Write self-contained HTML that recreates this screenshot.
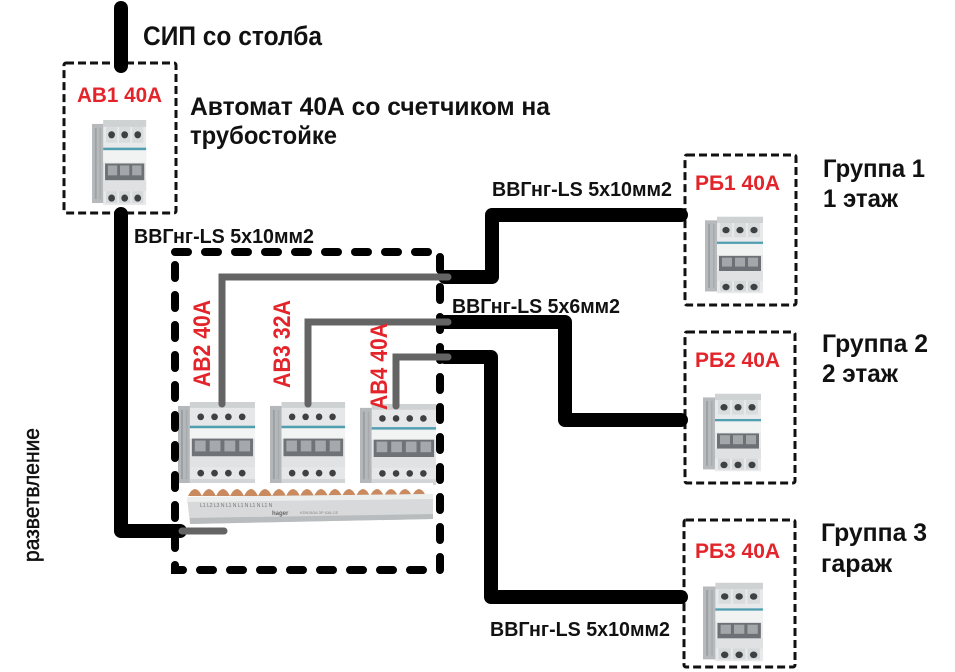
<!DOCTYPE html>
<html><head><meta charset="utf-8">
<style>
html,body{margin:0;padding:0;background:#fff;}
svg{display:block;}
.t{font-family:"Liberation Sans Narrow","Liberation Sans","Noto Sans CJK SC",sans-serif;font-weight:bold;fill:#111;}
.r{fill:#e3242b;}
</style></head>
<body>
<svg width="955" height="672" viewBox="0 0 955 672" xmlns="http://www.w3.org/2000/svg">
<defs>
  <symbol id="b3" viewBox="0 0 60 90" preserveAspectRatio="none">
    <rect x="0" y="6" width="13" height="80" fill="#b7babc"/>
    <rect x="3" y="10" width="2" height="72" fill="#9ea2a4"/>
    <rect x="8" y="10" width="1.5" height="72" fill="#a7abad"/>
    <rect x="12" y="2" width="46" height="86" fill="#e7e9ea"/>
    <rect x="12" y="2" width="46" height="7" fill="#cfd2d3"/>
    <rect x="15" y="9" width="12" height="16" fill="#d9dcdd"/>
    <rect x="29" y="9" width="12" height="16" fill="#d9dcdd"/>
    <rect x="43" y="9" width="12" height="16" fill="#d9dcdd"/>
    <circle cx="21" cy="17" r="3.6" fill="#3e4143"/>
    <circle cx="35" cy="17" r="3.6" fill="#3e4143"/>
    <circle cx="49" cy="17" r="3.6" fill="#3e4143"/>
    <rect x="12" y="30" width="46" height="2.5" fill="#4f9fb1"/>
    <rect x="12" y="33" width="46" height="12" fill="#f1f2f2"/>
    <rect x="14" y="46" width="42" height="17" fill="#6d7175"/>
    <rect x="17" y="48" width="10" height="10" fill="#a3a7aa"/>
    <rect x="30" y="48" width="10" height="10" fill="#a3a7aa"/>
    <rect x="43" y="48" width="10" height="10" fill="#a3a7aa"/>
    <rect x="12" y="63" width="46" height="11" fill="#dfe1e2"/>
    <rect x="15" y="74" width="12" height="12" fill="#d6d9da"/>
    <rect x="29" y="74" width="12" height="12" fill="#d6d9da"/>
    <rect x="43" y="74" width="12" height="12" fill="#d6d9da"/>
    <circle cx="21" cy="81" r="3.6" fill="#3e4143"/>
    <circle cx="35" cy="81" r="3.6" fill="#3e4143"/>
    <circle cx="49" cy="81" r="3.6" fill="#3e4143"/>
  </symbol>
  <symbol id="b4" viewBox="0 0 80 84" preserveAspectRatio="none">
    <rect x="0" y="4" width="13" height="78" fill="#b5b8ba"/>
    <rect x="3" y="8" width="2" height="70" fill="#9ca0a2"/>
    <rect x="8" y="8" width="1.5" height="70" fill="#a6aaac"/>
    <rect x="12" y="0" width="66" height="84" fill="#e5e7e8"/>
    <rect x="12" y="0" width="66" height="6" fill="#cfd2d3"/>
    <circle cx="23" cy="15" r="3.4" fill="#3e4143"/>
    <circle cx="37" cy="15" r="3.4" fill="#3e4143"/>
    <circle cx="51" cy="15" r="3.4" fill="#3e4143"/>
    <circle cx="65" cy="15" r="3.4" fill="#3e4143"/>
    <rect x="12" y="24" width="66" height="2.5" fill="#4f9fb1"/>
    <rect x="12" y="27" width="66" height="10" fill="#f2f3f3"/>
    <rect x="14" y="37" width="62" height="18" fill="#6f7377"/>
    <rect x="17" y="39" width="11" height="11" fill="#a5a9ac"/>
    <rect x="32" y="39" width="11" height="11" fill="#a5a9ac"/>
    <rect x="47" y="39" width="11" height="11" fill="#a5a9ac"/>
    <rect x="62" y="39" width="11" height="11" fill="#a5a9ac"/>
    <rect x="12" y="55" width="66" height="11" fill="#e0e2e3"/>
    <circle cx="23" cy="72" r="3.4" fill="#3e4143"/>
    <circle cx="37" cy="72" r="3.4" fill="#3e4143"/>
    <circle cx="51" cy="72" r="3.4" fill="#3e4143"/>
    <circle cx="65" cy="72" r="3.4" fill="#3e4143"/>
    <rect x="12" y="78" width="66" height="6" fill="#d2d5d6"/>
  </symbol>
</defs>

<rect width="955" height="672" fill="#fff"/>

<!-- small dashed boxes -->
<g fill="none" stroke="#111" stroke-width="3" stroke-dasharray="8 4">
  <rect x="64" y="63" width="112" height="150" rx="2"/>
  <rect x="685" y="155" width="111" height="150" rx="2"/>
  <rect x="685" y="332" width="110" height="151" rx="2"/>
  <rect x="684" y="520" width="111" height="147" rx="2"/>
</g>

<!-- breakers -->
<use href="#b3" x="92" y="118" width="56" height="89"/>
<use href="#b3" x="705" y="215" width="60" height="80"/>
<use href="#b3" x="703" y="392" width="60" height="81"/>
<use href="#b3" x="703" y="581" width="62" height="82"/>
<use href="#b4" x="178" y="402" width="79" height="83"/>
<use href="#b4" x="270" y="402" width="77" height="83"/>
<use href="#b4" x="360" y="404" width="78" height="81"/>

<!-- busbar -->
<g>
  <rect x="188" y="483" width="245" height="13" fill="#fff"/>
  <path d="M188,496 q7,-14 14,0 q7,-14 14,0 q7,-14 14,0 q7,-14 14,0 q7,-14 14,0 q7,-14 14,0 q7,-14 14,0 q7,-14 14,0 q7,-14 14,0 q7,-14 14,0 q7,-14 14,0 q7,-14 14,0 q7,-14 14,0 q7,-14 14,0 q7,-14 14,0 q7,-14 14,0 q7,-14 14,0 Z" fill="#c98a5f"/>
  <polygon points="187,497 433,494 433,519 190,524" fill="#d7d9da"/>
  <polygon points="187,497 433,494 433,499 187,502" fill="#eceeee"/>
  <polygon points="190,518 433,514 433,519 190,524" fill="#b9bcbe"/>
  <text x="200" y="507" font-family="Liberation Sans" font-size="5" fill="#777">L1    L2    L3    N    L1    N    L1    N    L1    N    L1    N</text>
  <text x="272" y="515" font-family="Liberation Sans" font-size="6" font-weight="bold" fill="#666">hager</text>
  <text x="300" y="514" font-family="Liberation Sans" font-size="4" fill="#888">KDN363A  3P  63A  CE</text>
</g>

<!-- big dashed box -->
<rect x="175" y="252" width="265" height="318" fill="none" stroke="#000" stroke-width="8" stroke-linecap="round" stroke-dasharray="13 17"/>

<!-- black cables -->
<g fill="none" stroke="#000" stroke-width="14" stroke-linecap="round" stroke-linejoin="round">
  <path d="M121,8 V66"/>
  <path d="M121,214 V531 H180"/>
  <path d="M445,277 H492 V215 H681"/>
  <path d="M445,322 H565 V420 H681"/>
  <path d="M445,357 H491 V597 H681"/>
</g>

<!-- grey wires -->
<g fill="none" stroke="#646464" stroke-width="7" stroke-linecap="round" stroke-linejoin="miter">
  <path d="M222,404 V277 H448"/>
  <path d="M308,404 V322 H448"/>
  <path d="M396,406 V357 H448"/>
  <path d="M182,531 H224"/>
</g>

<!-- texts -->
<text class="t" x="143" y="45" font-size="27" textLength="179" lengthAdjust="spacingAndGlyphs">СИП со столба</text>
<text class="t" x="190" y="115" font-size="25" textLength="360" lengthAdjust="spacingAndGlyphs">Автомат 40А со счетчиком на</text>
<text class="t" x="190" y="144" font-size="25" textLength="147" lengthAdjust="spacingAndGlyphs">трубостойке</text>
<text class="t r" x="77" y="102" font-size="21" textLength="85" lengthAdjust="spacingAndGlyphs">АВ1 40А</text>
<text class="t" x="134" y="243" font-size="20" textLength="180" lengthAdjust="spacingAndGlyphs">ВВГнг-LS 5x10мм2</text>
<text class="t" x="492" y="196" font-size="20" textLength="180" lengthAdjust="spacingAndGlyphs">ВВГнг-LS 5x10мм2</text>
<text class="t" x="452" y="313" font-size="20" textLength="168" lengthAdjust="spacingAndGlyphs">ВВГнг-LS 5x6мм2</text>
<text class="t" x="490" y="636" font-size="20" textLength="180" lengthAdjust="spacingAndGlyphs">ВВГнг-LS 5x10мм2</text>

<text class="t r" x="695" y="190" font-size="21" textLength="85" lengthAdjust="spacingAndGlyphs">РБ1 40А</text>
<text class="t r" x="695" y="367" font-size="21" textLength="85" lengthAdjust="spacingAndGlyphs">РБ2 40А</text>
<text class="t r" x="695" y="558" font-size="21" textLength="85" lengthAdjust="spacingAndGlyphs">РБ3 40А</text>

<text class="t" x="823" y="177" font-size="25" textLength="102" lengthAdjust="spacingAndGlyphs">Группа 1</text>
<text class="t" x="823" y="207" font-size="25" textLength="75" lengthAdjust="spacingAndGlyphs">1 этаж</text>
<text class="t" x="822" y="352" font-size="25" textLength="106" lengthAdjust="spacingAndGlyphs">Группа 2</text>
<text class="t" x="822" y="382" font-size="25" textLength="76" lengthAdjust="spacingAndGlyphs">2 этаж</text>
<text class="t" x="821" y="541" font-size="25" textLength="106" lengthAdjust="spacingAndGlyphs">Группа 3</text>
<text class="t" x="821" y="572" font-size="25" textLength="71" lengthAdjust="spacingAndGlyphs">гараж</text>

<!-- rotated labels -->
<text class="t r" transform="translate(210,387) rotate(-90)" x="0" y="0" font-size="24" textLength="87" lengthAdjust="spacingAndGlyphs">АВ2 40А</text>
<text class="t r" transform="translate(290,388) rotate(-90)" x="0" y="0" font-size="24" textLength="88" lengthAdjust="spacingAndGlyphs">АВ3 32А</text>
<text class="t r" transform="translate(387,410) rotate(-90)" x="0" y="0" font-size="24" textLength="87" lengthAdjust="spacingAndGlyphs">АВ4 40А</text>
<text transform="translate(39,562) rotate(-90)" x="0" y="0" font-family="Liberation Sans Narrow, Liberation Sans, sans-serif" font-size="22" fill="#111" stroke="#111" stroke-width="0.5" textLength="134" lengthAdjust="spacingAndGlyphs">разветвление</text>
</svg>
</body></html>
